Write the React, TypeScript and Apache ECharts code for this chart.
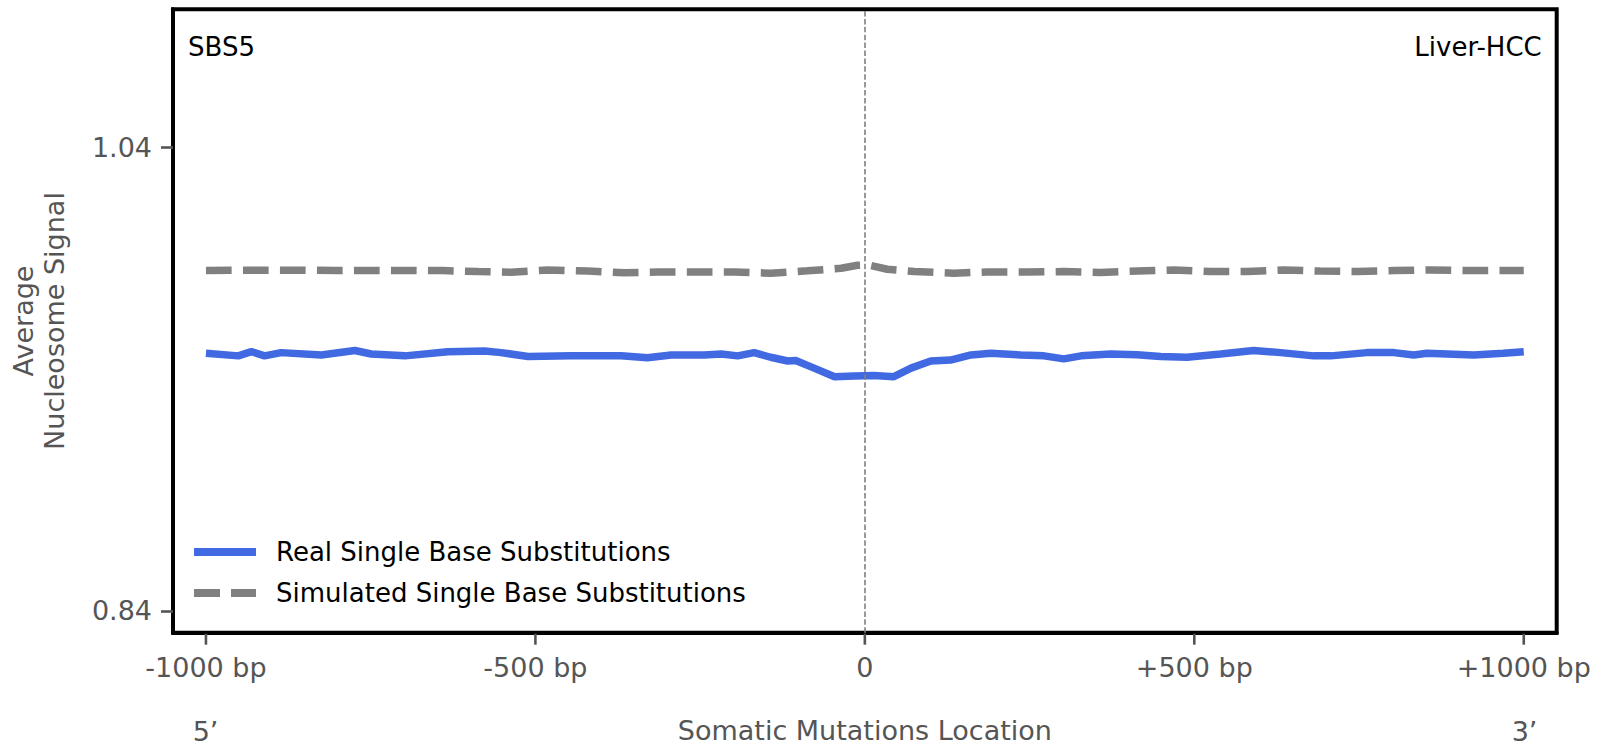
import React, { useEffect, useRef } from "react";
import * as echarts from "echarts";

const realX = [-1000, -951, -931, -911, -886, -825, -774, -749, -698, -633, -577, -552, -511, -446, -370, -330, -294, -244, -218, -193, -168, -143, -117, -105, -77, -46, -16, 14, 44, 70, 100, 130, 161, 191, 237, 272, 302, 328, 373, 413, 449, 489, 540, 590, 631, 681, 707, 762, 803, 833, 853, 924, 969, 1000];
const realY = [0.9512, 0.9501, 0.9519, 0.9501, 0.9515, 0.9505, 0.9524, 0.9509, 0.9501, 0.9519, 0.9522, 0.9515, 0.9498, 0.9501, 0.9501, 0.9493, 0.9505, 0.9505, 0.9509, 0.9501, 0.9515, 0.9495, 0.9479, 0.9481, 0.9448, 0.9411, 0.9414, 0.9416, 0.9411, 0.9448, 0.9479, 0.9483, 0.9505, 0.9512, 0.9505, 0.9501, 0.9488, 0.9501, 0.9509, 0.9506, 0.9498, 0.9495, 0.9509, 0.9524, 0.9515, 0.9501, 0.9501, 0.9515, 0.9515, 0.9505, 0.9512, 0.9505, 0.9512, 0.9519];

const simX = [-1000, -900, -800, -700, -640, -587, -537, -481, -420, -365, -314, -254, -198, -143, -87, -36, -11, 5, 34, 75, 135, 186, 247, 302, 358, 413, 469, 525, 580, 636, 691, 747, 803, 858, 914, 1000];
const simY = [0.987, 0.9871, 0.987, 0.987, 0.9869, 0.9865, 0.9862, 0.9872, 0.9867, 0.986, 0.9863, 0.9863, 0.9863, 0.9858, 0.9868, 0.9879, 0.9892, 0.9894, 0.9875, 0.9865, 0.9858, 0.9863, 0.9863, 0.9865, 0.9861, 0.9867, 0.9872, 0.9865, 0.9865, 0.9872, 0.9867, 0.9865, 0.9869, 0.9872, 0.9869, 0.9869];

const xTicks = [-1000, -500, 0, 500, 1000];
const xTickLabels = ["-1000 bp", "-500 bp", "0", "+500 bp", "+1000 bp"];
const yTicks = [0.84, 1.04];

const seriesNames = ["Real Single Base Substitutions", "Simulated Single Base Substitutions"];
const signature = "SBS5";
const cancerType = "Liver-HCC";

const FONT = "DejaVu Sans";
const GRAY = "#555555";
const BLUE = "#4169E1";
const SIMGRAY = "#808080";
const Y_MIN = 0.8306;
const Y_MAX = 1.0997;
const TICK_LEN = 12;

export default function App() {
  const ref = useRef<HTMLDivElement>(null);
  useEffect(() => {
    document.body.style.margin = "0";
    const chart = echarts.init(ref.current!, null, { renderer: "svg" });
    chart.setOption({
      animation: false,
      textStyle: { fontFamily: FONT },
      grid: {
        left: 171.7,
        right: 46.3,
        top: 9.3,
        bottom: 123.3,
        show: true,
        borderColor: "#000",
        borderWidth: 4,
        backgroundColor: "transparent",
      },
      xAxis: {
        type: "value",
        min: -1050,
        max: 1050,
        splitLine: { show: false },
        axisLine: { show: true, onZero: false, lineStyle: { color: "#000", width: 4 } },
        axisTick: { show: false },
        axisLabel: {
          customValues: xTicks,
          margin: 21,
          fontSize: 27,
          color: GRAY,
          fontFamily: FONT,
          formatter: (v: number) => {
            const i = xTicks.indexOf(Math.round(v));
            return i >= 0 ? xTickLabels[i] : "";
          },
        },
        name: "Somatic Mutations Location",
        nameLocation: "middle",
        nameGap: 84,
        nameTextStyle: { fontSize: 27, color: GRAY, fontFamily: FONT },
      },
      yAxis: {
        type: "value",
        min: Y_MIN,
        max: Y_MAX,
        splitLine: { show: false },
        axisLine: { show: true, onZero: false, lineStyle: { color: "#000", width: 4 } },
        axisTick: {
          show: true,
          inside: false,
          customValues: yTicks,
          length: TICK_LEN,
          lineStyle: { color: GRAY, width: 2.6 },
        },
        axisLabel: {
          customValues: yTicks,
          margin: 21,
          fontSize: 27,
          color: GRAY,
          fontFamily: FONT,
          formatter: (v: number) => v.toFixed(2),
        },
        name: "Average\nNucleosome Signal",
        nameLocation: "middle",
        nameRotate: 90,
        nameGap: 103,
        nameTextStyle: { fontSize: 27, color: GRAY, fontFamily: FONT, lineHeight: 31 },
      },
      legend: {
        orient: "vertical",
        left: 194,
        top: 539,
        padding: 0,
        itemWidth: 62,
        itemHeight: 8,
        itemGap: 15,
        textStyle: { fontSize: 26, color: "#000", fontFamily: FONT, padding: [0, 0, 0, 15] },
        data: [
          { name: seriesNames[0], icon: "rect", itemStyle: { color: BLUE } },
          { name: seriesNames[1], icon: "path://M0 0H26V8H0Z M37 0H62V8H37Z", itemStyle: { color: SIMGRAY } },
        ],
      },
      graphic: [
        { type: "text", x: 188, y: 47, style: { text: signature, fontSize: 26, fill: "#000", fontFamily: FONT, textAlign: "left", textVerticalAlign: "middle" } },
        { type: "text", x: 1541.7, y: 47, style: { text: cancerType, fontSize: 26, fill: "#000", fontFamily: FONT, textAlign: "right", textVerticalAlign: "middle" } },
        { type: "text", x: 205.5, y: 731, style: { text: "5’", fontSize: 27, fill: GRAY, fontFamily: FONT, textAlign: "center", textVerticalAlign: "middle" } },
        { type: "text", x: 1524.5, y: 731, style: { text: "3’", fontSize: 27, fill: GRAY, fontFamily: FONT, textAlign: "center", textVerticalAlign: "middle" } },
      ],
      series: [
        {
          name: seriesNames[0],
          type: "line",
          showSymbol: false,
          symbol: "none",
          data: realX.map((x, i) => [x, realY[i]]),
          lineStyle: { color: BLUE, width: 7.5 },
          itemStyle: { color: BLUE },
          z: 3,
        },
        {
          name: seriesNames[1],
          type: "line",
          showSymbol: false,
          symbol: "none",
          data: simX.map((x, i) => [x, simY[i]]),
          lineStyle: { color: SIMGRAY, width: 7.5, type: [25.7, 11.3] },
          itemStyle: { color: SIMGRAY },
          z: 3,
          markLine: {
            silent: true,
            symbol: ["none", "none"],
            label: { show: false },
            lineStyle: { color: SIMGRAY, type: [5.5, 2.4], width: 1.6 },
            data: [{ xAxis: 0 }],
          },
        },
        {
          name: "xTicks",
          type: "custom",
          silent: true,
          clip: false,
          z: 10,
          data: xTicks.map((v) => [v, Y_MIN]),
          encode: { x: 0, y: 1 },
          renderItem: (_params: any, api: any) => {
            const p = api.coord([api.value(0), api.value(1)]);
            return {
              type: "line",
              shape: { x1: p[0], y1: p[1] + 1, x2: p[0], y2: p[1] + TICK_LEN },
              style: { stroke: GRAY, lineWidth: 2.6 },
            };
          },
        },
      ],
    });
    return () => chart.dispose();
  }, []);
  return <div ref={ref} style={{ width: 1603, height: 756 }} />;
}
